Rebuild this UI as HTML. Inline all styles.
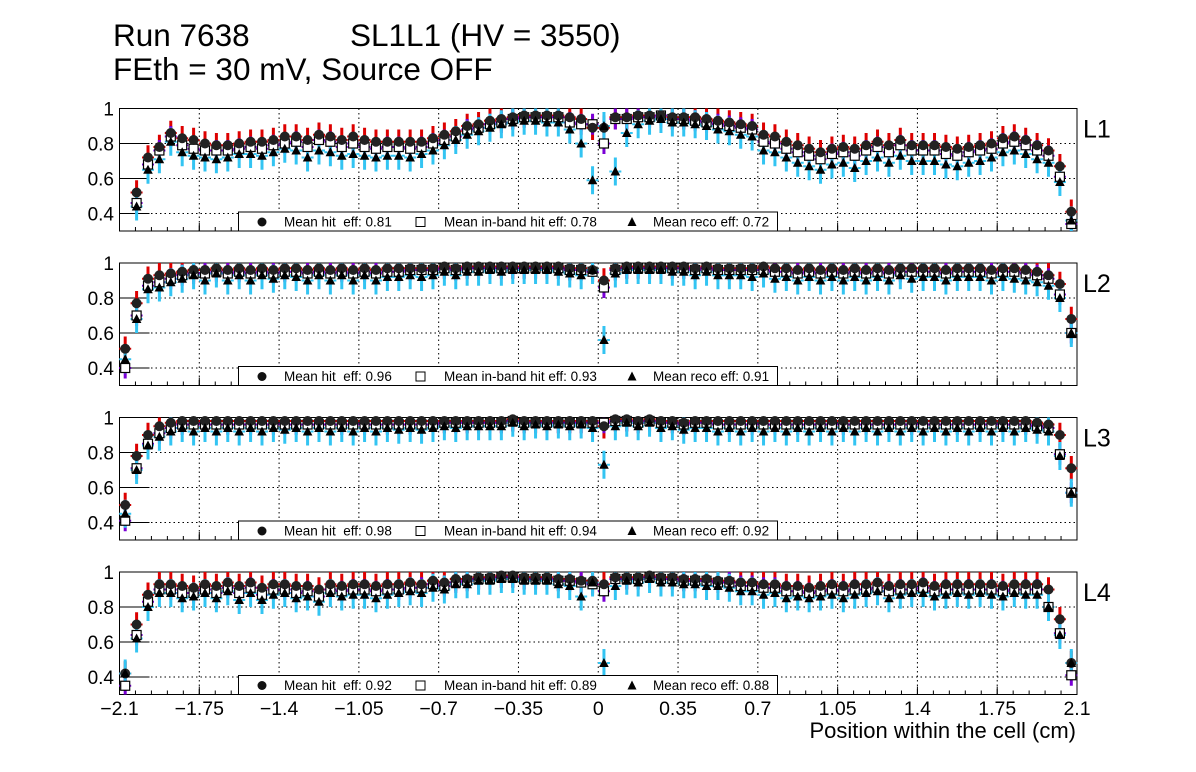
<!DOCTYPE html>
<html><head><meta charset="utf-8"><style>
body{margin:0;background:#fff;}
svg{display:block;font-family:"Liberation Sans",Arial,sans-serif;}
text{white-space:pre;}
</style></head><body>
<svg id="c" width="1196" height="772" viewBox="0 0 1196 772">
<text x="113" y="46" font-size="31.5">Run 7638</text>
<text x="350" y="46" font-size="31.5">SL1L1 (HV = 3550)</text>
<text x="113" y="80" font-size="31.5">FEth = 30 mV, Source OFF</text>
<text x="1076" y="738" font-size="22" text-anchor="end">Position within the cell (cm)</text>
</svg>
<script>
const layers=["L1","L2","L3","L4"];
const xTicks=[-2.1,-1.75,-1.4,-1.05,-0.7,-0.35,0,0.35,0.7,1.05,1.4,1.75,2.1];
const xTickLabels=["\u22122.1","\u22121.75","\u22121.4","\u22121.05","\u22120.7","\u22120.35","0","0.35","0.7","1.05","1.4","1.75","2.1"];
const yTicks=[0.4,0.6,0.8,1];
const yTickLabels=["0.4","0.6","0.8","1"];
const meanHit=["0.81","0.96","0.98","0.92"];
const meanBand=["0.78","0.93","0.94","0.89"];
const meanReco=["0.72","0.91","0.92","0.88"];
const hit1=[null,0.52,0.72,0.78,0.86,0.83,0.82,0.80,0.79,0.79,0.80,0.81,0.81,0.82,0.84,0.84,0.82,0.85,0.84,0.82,0.84,0.82,0.81,0.81,0.81,0.81,0.81,0.83,0.85,0.87,0.90,0.91,0.93,0.94,0.95,0.96,0.96,0.96,0.96,0.95,0.94,0.89,0.89,0.95,0.95,0.96,0.96,0.96,0.95,0.95,0.95,0.94,0.93,0.92,0.91,0.90,0.85,0.84,0.81,0.79,0.77,0.75,0.77,0.78,0.77,0.79,0.81,0.79,0.82,0.79,0.79,0.79,0.78,0.77,0.78,0.79,0.80,0.83,0.84,0.82,0.79,0.76,0.67,0.41];
const band1=[null,0.46,0.68,0.76,0.84,0.79,0.77,0.76,0.76,0.76,0.77,0.78,0.77,0.79,0.80,0.81,0.78,0.82,0.81,0.78,0.80,0.78,0.77,0.78,0.78,0.77,0.78,0.80,0.82,0.84,0.88,0.89,0.91,0.92,0.94,0.95,0.95,0.95,0.95,0.92,0.91,0.91,0.80,0.94,0.94,0.95,0.95,0.96,0.94,0.94,0.93,0.92,0.91,0.90,0.89,0.88,0.81,0.80,0.77,0.75,0.73,0.71,0.74,0.75,0.73,0.76,0.78,0.75,0.79,0.76,0.76,0.76,0.74,0.73,0.75,0.76,0.77,0.80,0.81,0.79,0.76,0.73,0.61,0.34];
const reco1=[null,0.44,0.65,0.71,0.81,0.75,0.73,0.72,0.71,0.72,0.74,0.74,0.73,0.75,0.77,0.76,0.72,0.76,0.75,0.73,0.74,0.73,0.72,0.73,0.73,0.72,0.74,0.76,0.79,0.82,0.85,0.87,0.89,0.91,0.92,0.93,0.93,0.92,0.92,0.88,0.80,0.59,0.90,0.64,0.86,0.91,0.93,0.94,0.92,0.92,0.91,0.90,0.88,0.87,0.85,0.84,0.76,0.75,0.72,0.69,0.67,0.65,0.68,0.69,0.66,0.70,0.72,0.69,0.73,0.70,0.70,0.70,0.68,0.67,0.69,0.70,0.72,0.75,0.76,0.74,0.71,0.69,0.58,0.36];
const hit2=[0.51,0.77,0.91,0.93,0.94,0.95,0.96,0.96,0.97,0.96,0.97,0.96,0.97,0.96,0.97,0.97,0.96,0.97,0.96,0.97,0.96,0.97,0.96,0.97,0.97,0.97,0.97,0.97,0.98,0.97,0.98,0.98,0.98,0.98,0.98,0.98,0.98,0.98,0.98,0.97,0.97,0.96,0.90,0.97,0.98,0.98,0.98,0.98,0.98,0.98,0.97,0.98,0.97,0.97,0.97,0.97,0.98,0.97,0.97,0.96,0.97,0.96,0.97,0.96,0.97,0.96,0.97,0.96,0.97,0.97,0.97,0.97,0.96,0.97,0.97,0.97,0.96,0.97,0.97,0.96,0.95,0.93,0.88,0.68];
const band2=[0.40,0.70,0.87,0.89,0.91,0.93,0.94,0.94,0.95,0.94,0.95,0.94,0.95,0.94,0.95,0.95,0.94,0.95,0.94,0.95,0.94,0.95,0.94,0.95,0.95,0.96,0.96,0.96,0.97,0.96,0.97,0.97,0.97,0.97,0.97,0.97,0.97,0.97,0.97,0.96,0.96,0.95,0.86,0.96,0.97,0.97,0.97,0.97,0.97,0.97,0.96,0.97,0.96,0.96,0.96,0.96,0.96,0.95,0.95,0.94,0.95,0.94,0.95,0.94,0.95,0.94,0.95,0.94,0.95,0.95,0.95,0.95,0.94,0.95,0.95,0.95,0.94,0.95,0.95,0.94,0.93,0.91,0.82,0.60];
const reco2=[0.45,0.68,0.85,0.86,0.89,0.91,0.93,0.90,0.94,0.90,0.93,0.90,0.93,0.91,0.93,0.92,0.90,0.93,0.90,0.93,0.90,0.93,0.90,0.92,0.92,0.93,0.92,0.93,0.95,0.93,0.95,0.95,0.96,0.95,0.96,0.96,0.96,0.96,0.95,0.94,0.93,0.96,0.56,0.94,0.96,0.96,0.96,0.96,0.95,0.95,0.93,0.95,0.93,0.93,0.93,0.92,0.94,0.91,0.92,0.90,0.92,0.90,0.92,0.90,0.92,0.90,0.92,0.90,0.93,0.91,0.92,0.92,0.90,0.92,0.92,0.92,0.90,0.92,0.91,0.90,0.89,0.87,0.80,0.60];
const hit3=[0.50,0.78,0.90,0.95,0.97,0.98,0.98,0.98,0.98,0.98,0.98,0.98,0.98,0.98,0.98,0.98,0.98,0.98,0.98,0.98,0.98,0.98,0.98,0.98,0.98,0.98,0.98,0.98,0.98,0.98,0.98,0.98,0.98,0.98,0.99,0.98,0.98,0.98,0.98,0.98,0.98,0.98,0.95,0.99,0.99,0.98,0.99,0.98,0.98,0.97,0.98,0.98,0.98,0.98,0.98,0.98,0.98,0.98,0.98,0.98,0.98,0.98,0.98,0.98,0.98,0.98,0.98,0.98,0.98,0.98,0.98,0.98,0.98,0.98,0.98,0.98,0.98,0.98,0.98,0.98,0.97,0.96,0.90,0.71];
const band3=[0.41,0.71,0.85,0.91,0.94,0.96,0.96,0.96,0.96,0.96,0.96,0.96,0.96,0.96,0.96,0.96,0.96,0.96,0.96,0.96,0.96,0.96,0.96,0.96,0.96,0.96,0.96,0.96,0.97,0.97,0.97,0.97,0.97,0.97,0.98,0.97,0.97,0.97,0.97,0.97,0.97,0.97,0.97,0.98,0.98,0.97,0.98,0.97,0.97,0.96,0.97,0.97,0.96,0.96,0.96,0.96,0.96,0.96,0.96,0.96,0.96,0.96,0.96,0.96,0.96,0.96,0.96,0.96,0.96,0.96,0.96,0.96,0.96,0.96,0.96,0.96,0.96,0.96,0.96,0.96,0.95,0.94,0.79,0.57];
const reco3=[0.45,0.70,0.84,0.89,0.92,0.94,0.92,0.94,0.92,0.94,0.92,0.94,0.92,0.94,0.93,0.94,0.92,0.94,0.92,0.94,0.92,0.94,0.92,0.94,0.93,0.94,0.93,0.94,0.95,0.94,0.95,0.95,0.95,0.95,0.97,0.95,0.96,0.95,0.96,0.95,0.96,0.94,0.73,0.95,0.97,0.95,0.97,0.94,0.95,0.93,0.94,0.94,0.92,0.94,0.92,0.94,0.92,0.94,0.92,0.94,0.92,0.94,0.92,0.94,0.92,0.94,0.92,0.94,0.92,0.94,0.92,0.94,0.92,0.94,0.92,0.94,0.92,0.94,0.92,0.94,0.93,0.92,0.78,0.57];
const hit4=[0.42,0.70,0.87,0.93,0.93,0.92,0.91,0.93,0.92,0.94,0.92,0.94,0.91,0.93,0.93,0.92,0.92,0.90,0.93,0.92,0.93,0.93,0.92,0.93,0.93,0.94,0.93,0.95,0.94,0.96,0.96,0.97,0.97,0.98,0.98,0.97,0.97,0.97,0.96,0.96,0.95,0.95,0.93,0.97,0.97,0.97,0.98,0.97,0.97,0.96,0.96,0.96,0.95,0.95,0.94,0.94,0.93,0.93,0.92,0.92,0.91,0.92,0.93,0.92,0.93,0.93,0.94,0.92,0.93,0.93,0.94,0.92,0.93,0.93,0.93,0.93,0.93,0.92,0.93,0.93,0.93,0.90,0.73,0.48];
const band4=[0.35,0.64,0.83,0.90,0.90,0.88,0.88,0.90,0.88,0.91,0.88,0.91,0.87,0.90,0.90,0.88,0.89,0.86,0.90,0.89,0.90,0.90,0.89,0.90,0.90,0.91,0.91,0.93,0.92,0.94,0.95,0.96,0.96,0.97,0.97,0.96,0.96,0.96,0.95,0.95,0.94,0.93,0.89,0.96,0.96,0.96,0.97,0.96,0.96,0.95,0.95,0.95,0.94,0.94,0.92,0.92,0.91,0.91,0.89,0.89,0.88,0.89,0.90,0.89,0.90,0.90,0.91,0.89,0.90,0.90,0.91,0.89,0.90,0.90,0.90,0.90,0.90,0.89,0.90,0.90,0.90,0.80,0.65,0.41];
const reco4=[0.42,0.62,0.80,0.88,0.88,0.85,0.86,0.88,0.85,0.89,0.84,0.88,0.84,0.87,0.88,0.85,0.86,0.83,0.88,0.86,0.87,0.87,0.85,0.87,0.88,0.89,0.88,0.91,0.90,0.93,0.93,0.95,0.95,0.96,0.96,0.95,0.95,0.95,0.93,0.92,0.86,0.94,0.48,0.92,0.95,0.94,0.96,0.94,0.94,0.93,0.93,0.92,0.92,0.91,0.89,0.89,0.87,0.88,0.85,0.86,0.85,0.86,0.87,0.85,0.87,0.88,0.89,0.85,0.87,0.88,0.88,0.86,0.87,0.88,0.87,0.88,0.87,0.86,0.88,0.87,0.87,0.80,0.64,0.48];
const hitData=[hit1,hit2,hit3,hit4];
const bandData=[band1,band2,band3,band4];
const recoData=[reco1,reco2,reco3,reco4];
const errHit=0.07, errBand=0.06, errReco=0.08;

const NS="http://www.w3.org/2000/svg";
const svg=document.getElementById('c');
const L=119.5,R=1077,H=122.5,tops=[108.5,263,417.5,572];
const xS=x=>L+(x+2.1)/4.2*(R-L);
function mk(tag,at,parent){const e=document.createElementNS(NS,tag);for(const k in at)e.setAttribute(k,at[k]);(parent||svg).appendChild(e);return e;}
const binX=i=>-2.075+0.05*i;

layers.forEach((lab,p)=>{
  const T=tops[p];
  const yS=v=>T+(1-v)/0.7*H;
  const g=mk('g',{});
  
  
  const fr=mk('rect',{x:L,y:T,width:R-L,height:H,fill:'#fff',stroke:'#000','stroke-width':1},g);
  
  
  xTicks.forEach((t,i)=>{
    if(i>0&&i<xTicks.length-1){const gl=mk('line',{x1:xS(t),x2:xS(t),y1:T,y2:T+H,stroke:'#000','stroke-dasharray':'1.5,3','stroke-width':1},g);
    
    }
    mk('line',{x1:xS(t),x2:xS(t),y1:T+H,y2:T+H-8,stroke:'#000'},g);
  });
  for(let m=-2.1;m<2.1;m+=0.07){mk('line',{x1:xS(m),x2:xS(m),y1:T+H,y2:T+H-4,stroke:'#000'},g);}
  yTicks.forEach((t,i)=>{
    const y=yS(t);
    if(t<1){const gl=mk('line',{x1:L,x2:R,y1:y,y2:y,stroke:'#000','stroke-dasharray':'1.5,3','stroke-width':1},g);
    
    }
    mk('line',{x1:L,x2:L+30,y1:y,y2:y,stroke:'#000'},g);
    const tx=mk('text',{x:114,y:y+7,'font-size':19,'text-anchor':'end'},g);
    tx.textContent=yTickLabels[i];
    
    
  });
  const series=[[hitData[p],errHit,'#dd0000'],[bandData[p],errBand,'#7a00d6'],[recoData[p],errReco,'#33c4f2']];
  series.forEach(([d,e,col])=>{
    d.forEach((v,i)=>{ if(v==null)return;
      const x=xS(binX(i));
      const b=mk('line',{x1:x,x2:x,y1:Math.max(T,yS(v+e)),y2:Math.min(T+H,yS(v-e)),stroke:col,'stroke-width':3},g);
      
      
      mk('line',{x1:x-6,x2:x+6,y1:yS(v),y2:yS(v),stroke:col,'stroke-width':2,'stroke-dasharray':'3,6'},g);
    });
  });
  bandData[p].forEach((v,i)=>{ if(v==null)return; const x=xS(binX(i)),y=yS(v);
    const s=mk('rect',{x:x-4.5,y:y-4.5,width:9,height:9,fill:'#fff',stroke:'#000','stroke-width':1.2},g);
    
    });
  hitData[p].forEach((v,i)=>{ if(v==null)return; const x=xS(binX(i)),y=yS(v);
    const c=mk('circle',{cx:x,cy:y,r:5,fill:'#222'},g);
    
    });
  recoData[p].forEach((v,i)=>{ if(v==null)return; const x=xS(binX(i)),y=yS(v);
    const t=mk('polygon',{points:`${x},${y-5} ${x-4.8},${y+4} ${x+4.8},${y+4}`,fill:'#000'},g);
    
    });
  const lg=mk('g',{},g);
  
  
  const ly=T+H-19;
  mk('rect',{x:238.5,y:ly,width:539,height:19,fill:'#fff',stroke:'#000'},lg);
  mk('circle',{cx:262,cy:ly+10,r:4.5,fill:'#111'},lg);
  mk('rect',{x:416,y:ly+5.5,width:9,height:9,fill:'#fff',stroke:'#000'},lg);
  mk('polygon',{points:`632,${ly+5} 627.5,${ly+14} 636.5,${ly+14}`,fill:'#000'},lg);
  [[284,'Mean hit  eff: '+meanHit[p]],[444,'Mean in-band hit eff: '+meanBand[p]],[653,'Mean reco eff: '+meanReco[p]]].forEach(([x,s])=>{
    const t=mk('text',{x:x,y:ly+14.5,'font-size':13.5},lg);t.textContent=s;
    
    });
  const lt=mk('text',{x:1083,y:T+29,'font-size':25},g);
  lt.textContent=lab;
  
  
});
xTicks.forEach((t,i)=>{
  const tx=mk('text',{x:xS(t),y:715,'font-size':19.5,'text-anchor':'middle'});
  tx.textContent=xTickLabels[i];
  
  
});
</script>
</body></html>
